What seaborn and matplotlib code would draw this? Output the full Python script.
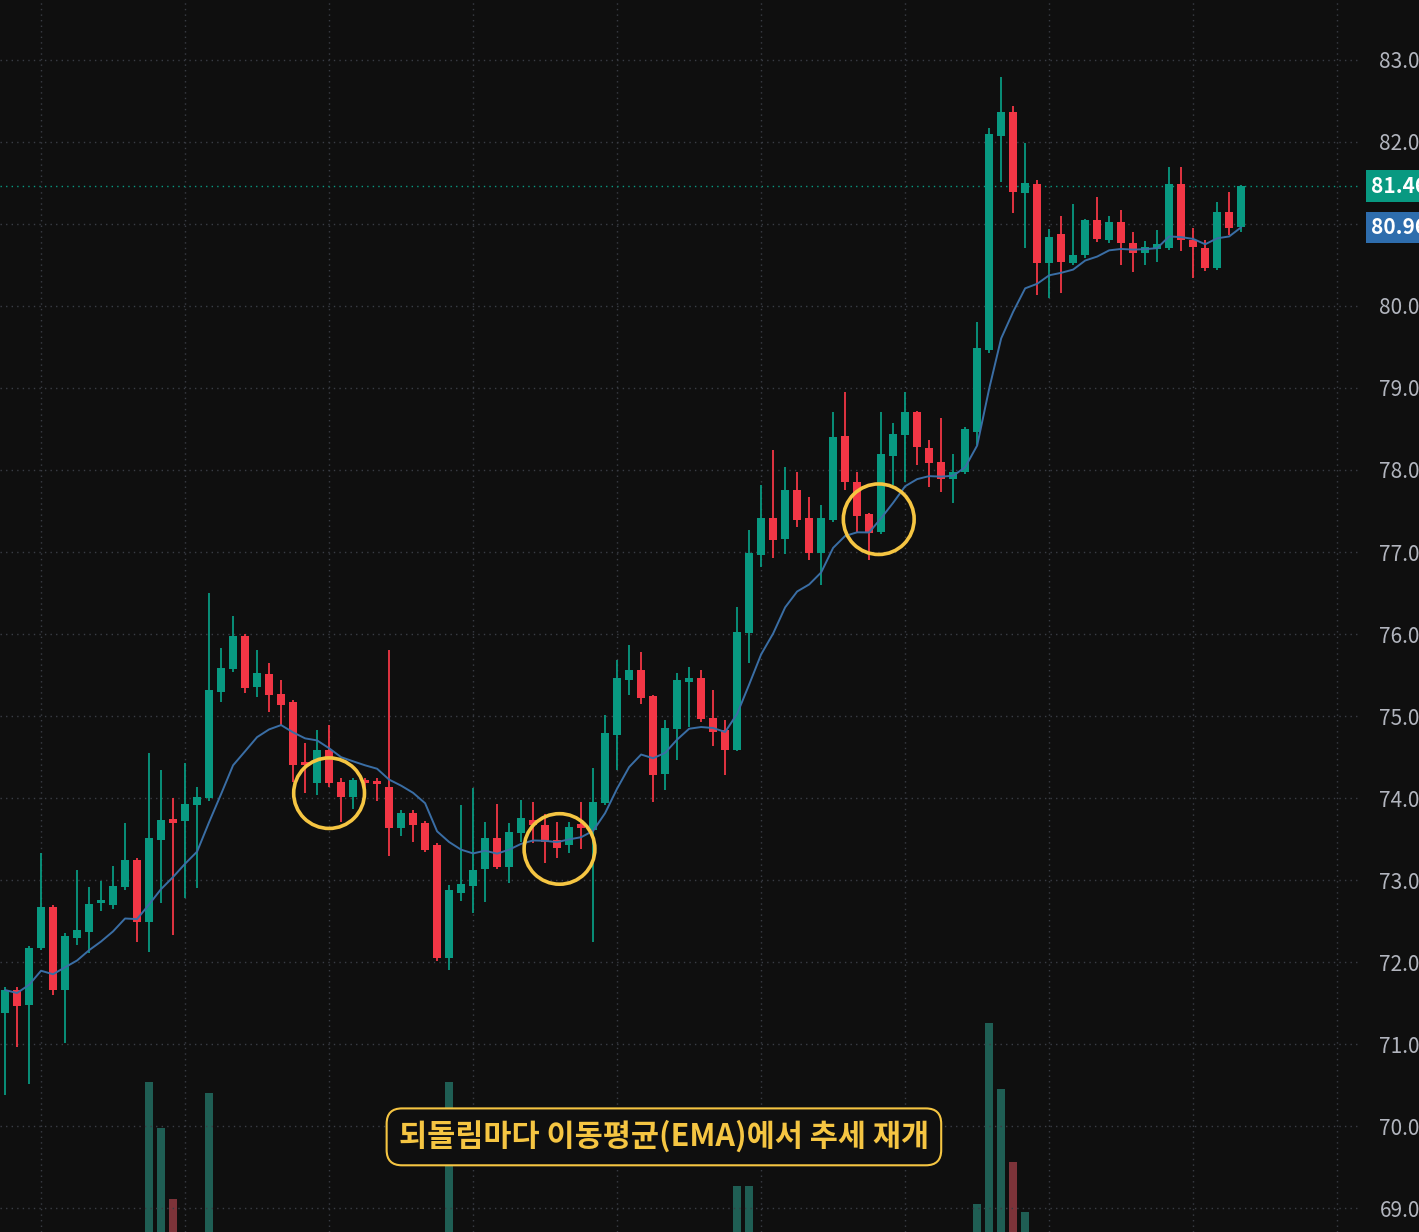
import numpy as np
import pandas as pd
import matplotlib
matplotlib.use("Agg")
import matplotlib.pyplot as plt
import seaborn as sns
from matplotlib.patches import Ellipse

opens = [71.38,71.66,71.48,72.17,72.67,71.66,72.30,72.37,72.72,72.70,72.91,73.24,72.49,73.49,73.73,73.72,73.91,74.00,75.29,75.57,
         75.98,75.35,75.51,75.27,75.17,74.42,74.18,74.59,74.20,74.01,74.20,74.19,74.13,73.63,73.82,73.70,73.43,72.05,72.84,72.93,
         73.13,73.51,73.16,73.57,73.73,73.67,73.49,73.43,73.66,73.61,73.94,74.77,75.44,75.56,75.24,74.29,74.84,75.42,75.46,74.98,
         74.83,74.59,76.01,76.96,77.41,77.16,77.76,77.41,76.99,77.39,78.41,77.85,77.46,77.24,78.17,78.43,78.71,78.27,78.10,77.89,
         77.98,78.46,79.46,82.07,82.37,81.38,81.49,80.52,80.88,80.52,80.62,81.05,80.80,81.02,80.77,80.65,80.70,80.71,81.49,80.80,
         80.71,80.46,81.15,80.96]
closes = [71.66,71.46,72.17,72.67,71.66,72.32,72.39,72.71,72.73,72.93,73.24,72.49,73.51,73.73,73.70,73.93,74.01,75.32,75.59,75.98,
          75.34,75.52,75.26,75.13,74.40,74.40,74.59,74.18,74.01,74.22,74.18,74.17,73.63,73.82,73.67,73.37,72.05,72.88,72.95,73.12,
          73.51,73.16,73.59,73.76,73.67,73.46,73.39,73.65,73.64,73.95,74.79,75.46,75.56,75.22,74.28,74.85,75.44,75.44,74.96,74.80,
          74.59,76.02,76.99,77.41,77.15,77.76,77.39,76.99,77.41,78.40,77.85,77.44,77.23,78.20,78.44,78.71,78.28,78.09,77.89,77.98,
          78.50,79.49,82.10,82.37,81.39,81.50,80.52,80.84,80.54,80.62,81.05,80.82,81.02,80.77,80.65,80.72,80.76,81.49,80.80,80.72,
          80.46,81.15,80.95,81.46]
highs = [71.70,71.70,72.20,73.33,72.70,72.35,73.12,72.91,72.99,73.17,73.70,73.27,74.55,74.34,74.00,74.43,74.13,76.50,75.83,76.22,
         76.00,75.80,75.65,75.44,75.20,74.67,74.83,74.89,74.25,74.24,74.25,74.25,75.80,73.85,73.85,73.72,73.45,72.94,73.91,74.12,
         73.71,73.93,73.70,73.98,73.95,73.80,73.71,73.71,73.95,74.37,75.01,75.68,75.87,75.78,75.26,74.95,75.52,75.60,75.56,75.32,
         74.95,76.33,77.27,77.82,78.24,78.04,77.98,77.67,77.57,78.71,78.95,77.97,77.48,78.71,78.57,78.95,78.72,78.37,78.63,78.19,
         78.52,79.80,82.17,82.79,82.44,81.99,81.54,80.94,81.10,81.24,81.06,81.33,81.10,81.17,80.90,80.79,80.93,81.70,81.70,80.95,
         80.80,81.27,81.39,81.48]
lows = [70.38,70.96,70.52,72.15,71.60,71.02,72.21,72.11,72.62,72.65,72.88,72.24,72.12,72.72,72.33,72.78,72.90,73.97,75.17,75.54,
        75.28,75.23,75.05,74.89,74.20,74.06,74.04,74.14,73.71,73.87,74.10,73.97,73.30,73.54,73.46,73.34,72.02,71.90,72.74,72.60,
        72.73,73.14,72.96,73.46,73.45,73.21,73.27,73.33,73.38,72.24,73.92,74.34,75.26,75.15,73.95,74.10,74.46,74.87,74.93,74.63,
        74.28,74.57,75.65,76.82,76.93,76.98,77.30,76.90,76.60,77.37,77.76,77.24,76.90,77.22,77.82,77.85,78.06,77.79,77.73,77.60,
        77.95,78.30,79.43,81.51,81.13,80.71,80.13,80.10,80.16,80.50,80.59,80.78,80.77,80.50,80.41,80.50,80.54,80.68,80.67,80.34,
        80.42,80.44,80.86,80.90]
volumes = [20,18,25,22,30,24,15,18,12,16,22,28,187,142,72,26,20,176,30,24,
           28,16,14,18,35,12,20,30,18,14,10,12,38,16,14,18,35,187,30,26,
           22,24,28,20,14,22,18,16,12,30,34,36,22,28,36,24,30,14,26,20,
           24,85,85,32,34,30,24,28,26,36,30,24,20,38,26,24,26,20,22,16,
           34,67,245,180,109,60,36,28,24,20,26,22,18,20,16,14,12,34,30,18,
           22,30,20,26]
price_ticks = [69, 70, 71, 72, 73, 74, 75, 76, 77, 78, 79, 80, 81, 82, 83]

UP, DN = "#089981", "#f23645"
BG = "#0f0f0f"
YEL = "#f5c542"

df = pd.DataFrame({"open": opens, "high": highs, "low": lows, "close": closes, "volume": volumes})
df["i"] = np.arange(len(df))
df["ema"] = df["close"].ewm(span=10, adjust=False).mean()
df["up"] = df["close"] >= df["open"]

sns.set_theme(style="dark")
plt.rcParams["font.family"] = ["Noto Sans CJK KR", "DejaVu Sans"]

fig = plt.figure(figsize=(14.19, 12.32), dpi=100, facecolor=BG)
ax = fig.add_axes([0, 0, 1360/1419, 1])
vax = ax.twinx()
vax.set_ylim(40, 40 + 1232*0.98)
vax.axis("off")
ax.set_zorder(vax.get_zorder() + 1)
ax.patch.set_visible(False)
fig.patch.set_facecolor(BG)

vcol = np.where(df["up"], "#1f5e54", "#7c3339")
vax.bar(df["i"], df["volume"], width=0.7, color=vcol, edgecolor="none", linewidth=0, zorder=1)

colors = np.where(df["up"], UP, DN)
ax.vlines(df["i"], df["low"], df["high"], colors=colors, linewidth=1.3, zorder=3)
bottom = np.minimum(df["open"], df["close"])
height = np.maximum(np.abs(df["close"] - df["open"]), 0.04)
ax.bar(df["i"], height, bottom=bottom, width=0.68, color=colors, edgecolor="none", linewidth=0, zorder=4)
sns.lineplot(data=df, x="i", y="ema", ax=ax, color="#3a6ea5", linewidth=1.4, zorder=5)

ax.set_xlim(-0.42, 112.9)
ax.set_ylim(68.71, 83.73)
ax.set_xticks(np.arange(3, 113, 12))
ax.set_xticklabels([])
ax.set_yticks(price_ticks)
ax.yaxis.tick_right()
ax.set_yticklabels([("" if t == 81 else f"{t:.2f}") for t in price_ticks])
ax.tick_params(axis="y", colors="#b2b5be", labelsize=15, length=0, pad=14)
ax.tick_params(axis="x", length=0)
ax.grid(True, color="#3a3d45", linestyle=(0, (1, 3)), linewidth=1)
ax.set_xlabel("")
ax.set_ylabel("")
for s in ax.spines.values():
    s.set_visible(False)

last = df["close"].iloc[-1]
ax.axhline(last, color=UP, linestyle=(0, (1, 3)), linewidth=1, zorder=2)
ax.text(1.008, last, f"{last:.2f}", transform=ax.get_yaxis_transform(), va="center", ha="left",
        color="white", fontsize=15, fontweight="bold",
        bbox=dict(boxstyle="square,pad=0.25", fc=UP, ec="none"), clip_on=False)
ema_last = df["ema"].iloc[-1]
ax.text(1.008, min(ema_last, last - 0.47), f"{ema_last:.2f}", transform=ax.get_yaxis_transform(), va="center", ha="left",
        color="white", fontsize=15, fontweight="bold",
        bbox=dict(boxstyle="square,pad=0.25", fc="#2e6dad", ec="none"), clip_on=False)

for cx, cy in [(27, 74.06), (46.2, 73.38), (72.8, 77.40)]:
    ax.add_patch(Ellipse((cx, cy), 5.9, 0.86, fill=False, ec=YEL, lw=2.6, zorder=6))

ax.text(54.9, 69.87, "되돌림마다 이동평균(EMA)에서 추세 재개", ha="center", va="center",
        color=YEL, fontsize=22, fontweight="bold", zorder=7,
        bbox=dict(boxstyle="round,pad=0.4,rounding_size=0.5", fc=BG, ec=YEL, lw=1.5))

fig.savefig("out.png", dpi=100, facecolor=BG)
